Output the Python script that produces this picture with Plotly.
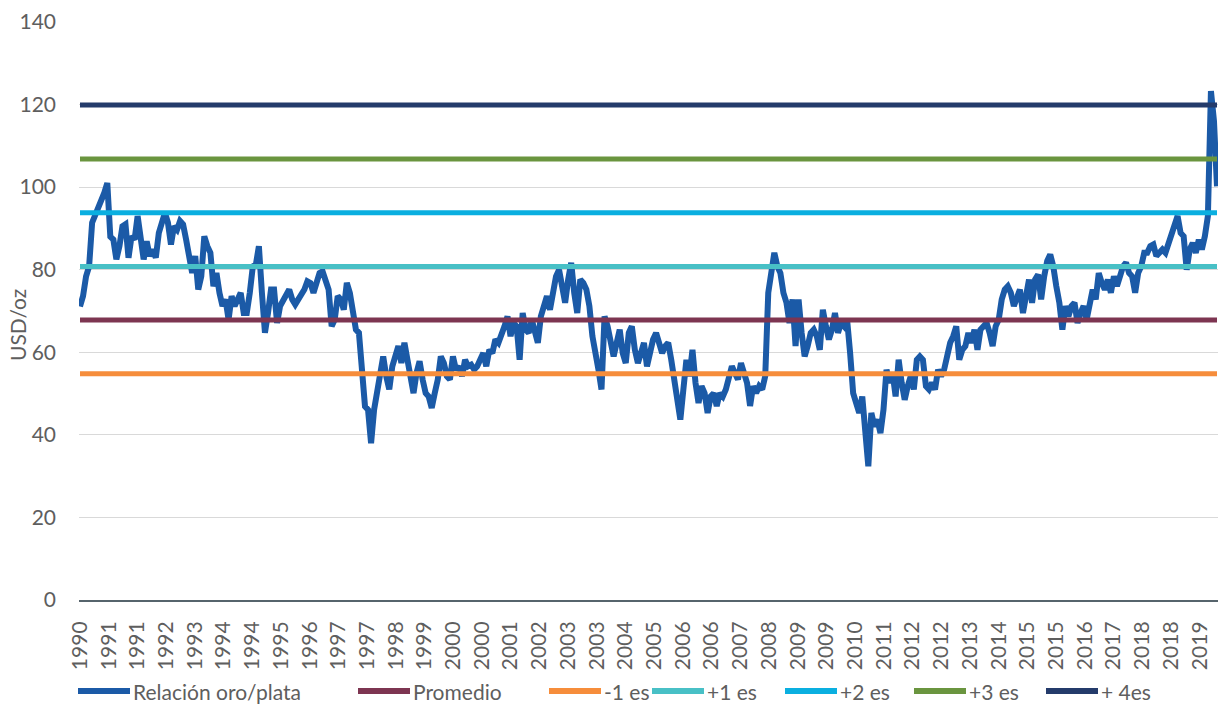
import plotly.graph_objects as go

# Gold/silver ratio (uniform sampling left to right)
ratio_1990_1996 = [71.1, 73.6, 78.4, 80.8, 91.4, 93, 95, 96.2, 98.6, 101,
                   88, 87.3, 82.5, 85.7, 90.5, 91, 82.9, 88.1, 87.3, 93,
                   87.3, 82.5, 86.9, 83.3, 84.9, 82.9, 88.9, 91.4, 93.8, 91.4,
                   86.1, 90.5, 89.7, 91.8, 91, 87.3, 82.5, 79.2, 83.3, 75.2,
                   78.4, 88.1, 85.7, 84.1, 76, 79.2, 74.4, 71.2, 72.8, 67.9,
                   73.6, 71.2, 72.8, 74.4, 69.5, 69.5, 74.4, 80.8, 81.2, 85.7,
                   74.4, 64.7, 69.5, 75.2, 75.2, 67.1, 71.2, 72.8, 73.6, 75.2,
                   72.8, 71.6, 72.8, 74]
ratio_1996_2002 = [75.2, 77.2, 76.8, 74.4, 77.6, 79.2, 79.6, 77.6, 75.2, 66.3,
                   67.9, 73.6, 72.8, 70.3, 76.8, 74.4, 69.5, 65.5, 64.7, 55.8,
                   46.9, 46.1, 38, 46.1, 50.1, 53.4, 59, 54.2, 51, 56.6,
                   59, 61.5, 57.4, 62.3, 58.2, 54.2, 50.1, 55, 57.8, 53.4,
                   50.1, 49.3, 46.5, 50.1, 53.4, 59, 57.4, 54.2, 53.4, 59,
                   55.8, 56.6, 54.2, 58.2, 56.6, 57, 55.8, 56.6, 58.2, 59.8,
                   56.6, 60.6, 59.8, 63.1, 62.3, 63.9, 66.3, 68.7, 63.9, 67.1,
                   66.3, 58.2, 69.5, 65.5]
ratio_2002_2008 = [64.7, 67.9, 65.5, 62.3, 68.7, 71.2, 73.6, 70.3, 74.4, 78.4,
                   80, 75.2, 72, 77.6, 81.7, 74.4, 69.5, 77.6, 76.8, 75.2,
                   71.2, 63.9, 60.6, 55.8, 51, 68.7, 66.3, 61.5, 59, 62.3,
                   65.5, 59.8, 57.4, 64.7, 66.3, 60.6, 57.4, 59.8, 62.3, 56.6,
                   60.6, 63.1, 64.7, 62.3, 59.8, 61.5, 62.3, 58.2, 53.4, 50.1,
                   43.7, 51, 58.2, 54.2, 60.6, 52.6, 47.7, 51.8, 50.1, 45.3,
                   49.3, 50.1, 47, 50.1, 49.3, 51, 53.4, 56.6, 55, 53.4,
                   57.4, 55, 52.6, 47]
ratio_2008_2013 = [51.8, 50.1, 51.8, 51, 54.2, 74.4, 78.4, 84.1, 80.8, 79.2,
                   74.4, 72, 67.1, 72.8, 61.5, 72.8, 64.7, 59, 61.5, 64.7,
                   65.5, 63.9, 60.6, 70.3, 66.3, 63.1, 65.5, 69.5, 64.7, 67.1,
                   66.3, 67.9, 59.8, 50.1, 47.7, 45.3, 49.3, 40.4, 32.4, 45.3,
                   42.1, 43.7, 40.4, 46.1, 55.8, 52.6, 55, 49.3, 58.2, 52.6,
                   48.5, 51.8, 54.2, 51, 58.2, 59, 58.2, 51.8, 51, 52.6,
                   51, 55.8, 54.2, 55.8, 59.8, 62.3, 63.9, 66.3, 58.2, 60.6,
                   61.5, 64.7, 62.3, 65.5]
ratio_2013_2020 = [60.6, 65.5, 66.3, 67.1, 64.7, 61.5, 66.3, 67.9, 72.8, 75.2,
                   76, 74.4, 71.2, 72.8, 75.2, 69.5, 74.4, 77.6, 72, 77.6,
                   78.8, 72.8, 78.4, 82.1, 83.7, 80.8, 76, 72, 65.5, 71.2,
                   68.7, 71.2, 72, 67.1, 69.5, 71.2, 67.9, 71.2, 75.2, 72.8,
                   79.2, 76.8, 75.2, 77.6, 74.4, 78.4, 76, 78.4, 80.8, 81.7,
                   79.2, 78.4, 74.4, 79.2, 80.8, 84.1, 84.1, 85.7, 86.1, 83.3,
                   84.1, 84.9, 84.1, 86.5, 88.9, 90.5, 93, 88.9, 88.1, 80,
                   84.9, 86.5, 84.1, 87.3, 84.9, 88.1, 93, 123.3, 116, 100.2]

ratio = ratio_1990_1996 + ratio_1996_2002 + ratio_2002_2008 + ratio_2008_2013 + ratio_2013_2020

x_labels = ["1990", "1991", "1991", "1992", "1993", "1994", "1994", "1995", "1996", "1997",
            "1997", "1998", "1999", "2000", "2000", "2001", "2002", "2003", "2003", "2004",
            "2005", "2006", "2006", "2007", "2008", "2009", "2009", "2010", "2011", "2012",
            "2012", "2013", "2014", "2015", "2015", "2016", "2017", "2018", "2018", "2019"]

series_name = "Relación oro/plata"
level_names = ["Promedio", "-1 es", "+1 es", "+2 es", "+3 es", "+ 4es"]
level_values = [67.8, 54.8, 80.8, 93.8, 106.8, 119.9]

series_color = "#1B5AA7"
level_colors = ["#7D3551", "#F68D3B", "#48C0C6", "#0AAFE0", "#6A953F", "#243B6B"]

W, H = 1218, 709
ML, MR, MT, MB = 79, 0, 22, 109
PW, PH = W - ML - MR, H - MT - MB

N = len(ratio)
idx = list(range(N))

fig = go.Figure()
fig.add_trace(go.Scatter(x=idx, y=ratio, mode="lines", name=series_name,
                         line=dict(color=series_color, width=6), showlegend=False))
for name, val, col in zip(level_names, level_values, level_colors):
    fig.add_trace(go.Scatter(x=[idx[0], idx[-1]], y=[val, val], mode="lines", name=name,
                             line=dict(color=col, width=5), showlegend=False))

x0, x1 = -0.33, N - 1 + 0.33
tick_step = (N - 1) / 39.6
tickvals = [i * tick_step for i in range(len(x_labels))]

font_family = "Lato, 'Open Sans', sans-serif"
gray = "#5E5E5E"
FS = 21
WT = 400

def tf(size=FS):
    return dict(family=font_family, size=size, color=gray, weight=WT)

fig.update_layout(
    width=W, height=H, autosize=False,
    margin=dict(l=ML, r=MR, t=MT, b=MB, pad=0),
    plot_bgcolor="white", paper_bgcolor="white",
    font=tf(),
    showlegend=False,
    xaxis=dict(range=[x0, x1], tickmode="array", tickvals=tickvals, ticktext=x_labels,
               tickangle=-90, showgrid=False, zeroline=False, showline=True,
               linecolor="#56646C", linewidth=2, ticks="", ticklabelstandoff=11,
               tickfont=tf()),
    yaxis=dict(range=[0, 140], dtick=20, tick0=0, showgrid=True, gridcolor="#D9D9D9",
               gridwidth=1.3, zeroline=False, showline=False, ticks="",
               ticklabelstandoff=22, tickfont=tf()),
)

def px_to_paper_x(px):
    return (px - ML) / PW

def px_to_paper_y(py):
    return (H - MB - py) / PH

fig.add_annotation(text="USD/oz", textangle=-90, xref="paper", yref="paper",
                   x=px_to_paper_x(18), y=px_to_paper_y(325), showarrow=False,
                   xanchor="center", yanchor="middle", font=tf())

legend_names = [series_name] + level_names
legend_colors = [series_color] + level_colors
legend_starts = [78, 358, 549, 652, 785, 914, 1046]
legend_y = 691
line_len = 52
for name, col, sx in zip(legend_names, legend_colors, legend_starts):
    fig.add_shape(type="line", xref="paper", yref="paper",
                  x0=px_to_paper_x(sx), x1=px_to_paper_x(sx + line_len),
                  y0=px_to_paper_y(legend_y), y1=px_to_paper_y(legend_y),
                  line=dict(color=col, width=6))
    fig.add_annotation(text=name, xref="paper", yref="paper",
                       x=px_to_paper_x(sx + line_len + 1), y=px_to_paper_y(legend_y),
                       xanchor="left", yanchor="middle", showarrow=False,
                       font=tf())

fig.write_html("out.html", post_script="document.body.style.margin='0';",
               config={"displayModeBar": False})
